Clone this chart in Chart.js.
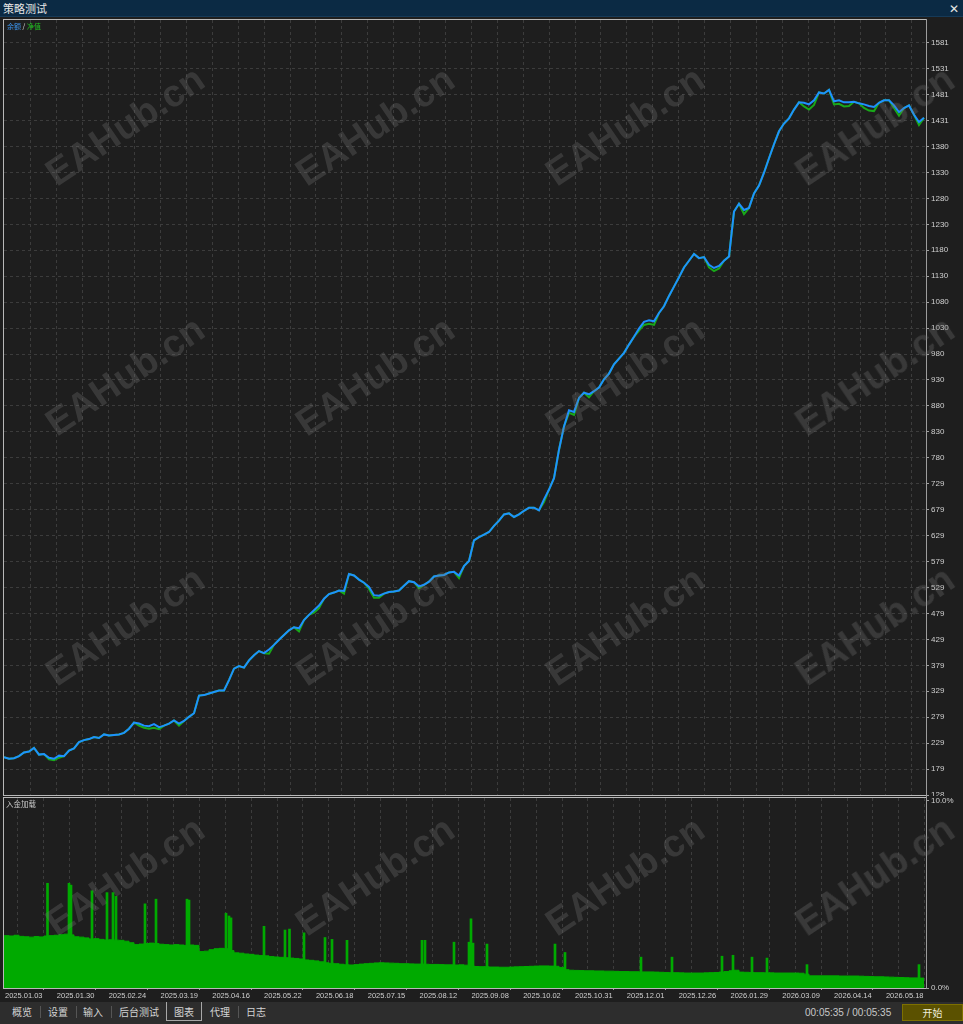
<!DOCTYPE html>
<html lang="zh">
<head>
<meta charset="UTF-8" />
<title>策略测试</title>
<script src="https://cdn.jsdelivr.net/npm/chart.js@4.4.1/dist/chart.umd.min.js"></script>
<style>
  html, body { margin: 0; padding: 0; }
  body {
    width: 963px; height: 1024px; overflow: hidden; position: relative;
    background: #1e1e1e;
    font-family: 'Noto Sans CJK SC', 'Liberation Sans', sans-serif;
  }
  .abs { position: absolute; white-space: nowrap; }
  .titlebar { left: 0; top: 0; width: 963px; height: 16px; background: #0b2a44; border-bottom: 1px solid #163a58; }
  .title { left: 3px; top: 0; font-size: 11px; line-height: 16px; color: #e6e6e6; }
  .close { right: 4px; top: 0; font-size: 12px; line-height: 16px; color: #e6e6e6; }
  .frame { box-sizing: border-box; border-left: 1px solid #b8b8b8; border-top: 1px solid #b8b8b8; border-bottom: 1px solid #b8b8b8; }
  .axisline { left: 926px; top: 19px; width: 1px; height: 970px; background: #9c9c9c; }
  canvas { position: absolute; left: 0; }
  .legend { left: 7px; top: 21px; font-size: 7px; line-height: 10px; }
  .sublabel { left: 6px; top: 798px; font-size: 7.5px; line-height: 11px; color: #c8c8c8; }
  .tabbar { left: 0; top: 1002px; width: 963px; height: 22px; background: #2d2d2d; }
  .tab { top: 1005px; font-size: 10px; line-height: 14px; color: #d4d4d4; }
  .sep { top: 1006px; width: 1px; height: 12px; background: #555; }
  .tabsel { left: 166px; top: 1002px; width: 36px; height: 19px; box-sizing: border-box; border: 1px solid #a8a8a8; border-top: none; }
  .time { left: 805px; top: 1006px; font-family: 'Liberation Sans', sans-serif; font-size: 10px; line-height: 14px; color: #c8c8c8; }
  .btn { left: 902px; top: 1004px; width: 61px; height: 17px; box-sizing: border-box; background: #5b5100; border: 1px solid #7d7000; color: #efeedd; font-size: 10px; line-height: 15px; text-align: center; }
  .wm { font-family: 'Liberation Sans', sans-serif; font-weight: bold; font-size: 38px; color: rgba(120,120,120,0.30); transform: translate(-50%, -50%) rotate(-34deg); pointer-events: none; }
</style>
</head>
<body>
<div class="abs titlebar"></div>
<div class="abs title">策略测试</div>
<div class="abs close">✕</div>

<canvas id="mainChart" width="963" height="777" style="top:19px;"></canvas>
<canvas id="loadChart" width="963" height="205" style="top:797px;"></canvas>

<div class="abs frame" style="left:3px; top:19px; width:923px; height:777px;"></div>
<div class="abs frame" style="left:3px; top:797px; width:923px; height:192px;"></div>
<div class="abs axisline"></div>

<div class="abs legend"><span style="color:#3b93ea">余额</span><span style="color:#e0e0e0"> / </span><span style="color:#22c022">净值</span></div>
<div class="abs sublabel">入金加载</div>

<div class="abs tabbar"></div>
<div class="abs tab" style="left:12px">概览</div>
<div class="abs sep" style="left:40px"></div>
<div class="abs tab" style="left:48px">设置</div>
<div class="abs sep" style="left:76px"></div>
<div class="abs tab" style="left:83px">输入</div>
<div class="abs sep" style="left:111px"></div>
<div class="abs tab" style="left:119px">后台测试</div>
<div class="abs tabsel"></div>
<div class="abs tab" style="left:174px">图表</div>
<div class="abs tab" style="left:210px">代理</div>
<div class="abs sep" style="left:238px"></div>
<div class="abs tab" style="left:246px">日志</div>
<div class="abs time">00:05:35 / 00:05:35</div>
<div class="abs btn">开始</div>

<div id="marks"></div>

<script>
// x-axis date labels (one every second grid line)
const dateLabels = ['2025.01.03', '2025.01.30', '2025.02.24', '2025.03.19', '2025.04.16', '2025.05.22',
  '2025.06.18', '2025.07.15', '2025.08.12', '2025.09.08', '2025.10.02', '2025.10.31',
  '2025.12.01', '2025.12.26', '2026.01.29', '2026.03.09', '2026.04.14', '2026.05.18'];

// right axis labels of the balance panel, bottom to top
const yTickLabels = ['128', '179', '229', '279', '329', '379', '429', '479', '529', '579', '629', '679',
  '729', '780', '830', '880', '930', '980', '1030', '1080', '1130', '1180', '1230', '1280',
  '1330', '1380', '1431', '1481', '1531', '1581'];

const loadTickValues = [0, 10];
const loadTickLabels = ['0.0%', '10.0%'];

// 余额 (balance)
const balance = [
  201, 198, 199, 203, 210, 212, 219, 206, 207, 200,
  198, 204, 203, 214, 218, 230, 234, 236, 240, 238,
  245, 243, 244, 245, 248, 256, 268, 266, 262, 261,
  265, 259, 262, 266, 272, 266, 271, 279, 286, 320,
  321, 324, 327, 330, 330, 350, 372, 377, 374, 388,
  398, 406, 402, 409, 418, 428, 437, 446, 452, 450,
  466, 476, 485, 494, 507, 516, 519, 523, 522, 555,
  552, 544, 538, 530, 514, 513, 517, 520, 521, 523,
  532, 541, 539, 531, 534, 540, 550, 552, 553, 558,
  559, 552, 570, 580, 620, 626, 631, 636, 648, 658,
  670, 672, 665, 670, 677, 683, 683, 678, 699, 718,
  740, 795, 840, 871, 868, 895, 905, 902, 908, 915,
  931, 942, 960, 971, 982, 998, 1013, 1029, 1042, 1045,
  1043, 1059, 1072, 1092, 1110, 1128, 1147, 1160, 1173, 1165,
  1167, 1152, 1146, 1150, 1160, 1168, 1255, 1270, 1258, 1262,
  1290, 1305, 1330, 1358, 1385, 1410, 1425, 1435, 1452, 1466,
  1465, 1462, 1470, 1485, 1483, 1490, 1468, 1470, 1466, 1466,
  1467, 1464, 1462, 1459, 1457, 1465, 1470, 1470, 1460, 1447,
  1455, 1460, 1442, 1428, 1436
];

// 净值 (equity)
const equity = [
  201, 198, 199, 203, 210, 212, 219, 206, 207, 197,
  195, 200, 203, 214, 218, 230, 234, 236, 240, 238,
  245, 243, 244, 245, 248, 256, 268, 262, 258, 256,
  258, 255, 262, 266, 272, 262, 271, 279, 286, 320,
  321, 324, 327, 330, 330, 350, 372, 377, 374, 388,
  398, 406, 402, 401, 418, 428, 437, 446, 452, 444,
  466, 476, 480, 489, 507, 516, 519, 523, 517, 555,
  552, 544, 538, 526, 509, 509, 517, 520, 521, 523,
  532, 541, 539, 527, 534, 540, 550, 552, 553, 558,
  559, 547, 570, 580, 620, 626, 631, 636, 648, 658,
  670, 672, 665, 670, 677, 683, 683, 678, 694, 718,
  740, 795, 840, 866, 862, 895, 905, 896, 908, 915,
  931, 942, 960, 971, 982, 998, 1013, 1025, 1036, 1038,
  1036, 1059, 1072, 1092, 1110, 1128, 1147, 1160, 1173, 1165,
  1167, 1147, 1140, 1145, 1160, 1168, 1255, 1270, 1250, 1262,
  1290, 1305, 1330, 1358, 1385, 1410, 1425, 1435, 1452, 1466,
  1458, 1452, 1461, 1485, 1483, 1490, 1462, 1463, 1458, 1459,
  1467, 1464, 1455, 1450, 1449, 1465, 1470, 1470, 1455, 1440,
  1455, 1460, 1442, 1422, 1436
];

// 入金加载 base level, %
const loadBase = [
  2.80, 2.78, 2.82, 2.76, 2.74, 2.72, 2.75, 2.73, 2.78, 2.80,
  2.82, 2.85, 2.88, 2.84, 2.74, 2.72, 2.68, 2.62, 2.64, 2.60,
  2.57, 2.58, 2.56, 2.55, 2.50, 2.42, 2.32, 2.35, 2.38, 2.40,
  2.38, 2.34, 2.32, 2.30, 2.32, 2.30, 2.28, 2.30, 2.28, 1.95,
  1.97, 2.05, 2.10, 2.12, 2.10, 2.00, 1.88, 1.86, 1.82, 1.80,
  1.76, 1.74, 1.72, 1.68, 1.66, 1.64, 1.62, 1.60, 1.58, 1.55,
  1.50, 1.48, 1.45, 1.40, 1.35, 1.32, 1.30, 1.27, 1.24, 1.23,
  1.25, 1.28, 1.30, 1.32, 1.34, 1.35, 1.34, 1.33, 1.32, 1.30,
  1.30, 1.29, 1.28, 1.28, 1.27, 1.26, 1.26, 1.25, 1.24, 1.24,
  1.23, 1.24, 1.22, 1.20, 1.15, 1.14, 1.14, 1.12, 1.12, 1.11,
  1.11, 1.12, 1.13, 1.14, 1.15, 1.16, 1.17, 1.18, 1.18, 1.17,
  1.16, 1.10, 0.98, 0.95, 0.94, 0.93, 0.92, 0.92, 0.91, 0.91,
  0.90, 0.90, 0.89, 0.88, 0.88, 0.87, 0.87, 0.86, 0.86, 0.86,
  0.85, 0.84, 0.83, 0.82, 0.82, 0.81, 0.80, 0.80, 0.80, 0.80,
  0.81, 0.82, 0.83, 0.85, 0.88, 0.92, 0.95, 0.85, 0.84, 0.83,
  0.82, 0.82, 0.81, 0.81, 0.80, 0.80, 0.80, 0.80, 0.80, 0.79,
  0.74, 0.65, 0.65, 0.65, 0.65, 0.65, 0.65, 0.64, 0.64, 0.64,
  0.64, 0.63, 0.62, 0.61, 0.60, 0.60, 0.59, 0.58, 0.57, 0.56,
  0.55, 0.54, 0.54, 0.53, 0.53
];

// short load spikes: position (same index units as above) and height in %
const spikeIdx = [8.7, 13.0, 13.4, 17.6, 20.6, 21.8, 22.4, 28.2, 30.4, 36.6, 37.0, 44.4, 45.0, 45.4,
  52.0, 56.2, 57.1, 60.0, 64.2, 65.6, 68.6, 83.6, 84.2, 90.0, 93.0, 93.4, 93.8, 96.6,
  110.2, 112.2, 127.4, 133.6, 143.6, 145.8, 149.6, 152.6, 160.6, 183.0];
const spikeLoad = [5.6, 5.6, 5.5, 5.2, 5.1, 5.1, 4.9, 4.5, 4.75, 4.75, 4.7, 4.0, 3.85, 3.75,
  3.3, 3.1, 3.15, 2.95, 2.7, 2.6, 2.55, 2.55, 2.55, 2.45, 2.45, 3.7, 2.4, 2.35,
  2.35, 1.9, 1.65, 1.65, 1.7, 1.75, 1.65, 1.6, 1.25, 1.25];

const GRID_STEP = 5.182;
const X_MAX = 184.4;
const GRID = '#3c3c3c';
const TICK = '#a0a0a0';
const LABEL = '#cfcfcf';
const CLEAR = 'rgba(0,0,0,0)';

function gridTicks(scale) {
  const t = [];
  for (let k = 0; 0.2 + k * GRID_STEP < X_MAX; k++) t.push({ value: 0.2 + k * GRID_STEP });
  scale.ticks = t;
}
function noPad(scale) {
  scale.paddingTop = 0; scale.paddingBottom = 0;
  scale.paddingLeft = 0; scale.paddingRight = 0;
}
const xy = arr => arr.map((v, i) => ({ x: i, y: v }));

new Chart(document.getElementById('mainChart'), {
  type: 'line',
  data: {
    datasets: [
      { label: '余额', data: xy(balance), borderColor: '#1e90ff', borderWidth: 2, pointRadius: 0, tension: 0 },
      { label: '净值', data: xy(equity), borderColor: '#19a819', borderWidth: 2, pointRadius: 0, tension: 0 }
    ]
  },
  options: {
    responsive: false, animation: false, devicePixelRatio: 1,
    layout: { padding: { left: 4, top: 1, bottom: 1, right: 0 } },
    plugins: { legend: { display: false }, tooltip: { enabled: false } },
    scales: {
      x: {
        type: 'linear', min: 0, max: X_MAX, offset: false,
        afterBuildTicks: gridTicks,
        afterFit: s => { s.height = 0; noPad(s); },
        ticks: { display: false },
        grid: { color: c => c.index === 0 ? CLEAR : GRID, drawTicks: false },
        border: { display: false, dash: [3, 3] }
      },
      y: {
        position: 'right', min: 128, max: 1625,
        afterBuildTicks: s => { s.ticks = yTickLabels.map((l, k) => ({ value: 128 + k * 1453 / 29 })); },
        afterFit: s => { s.width = 37; noPad(s); },
        ticks: {
          color: LABEL, padding: 2, autoSkip: false,
          font: { family: 'Liberation Sans', size: 8 },
          callback: (v, i) => yTickLabels[i]
        },
        grid: { color: c => c.index === 0 ? CLEAR : GRID, tickColor: TICK, tickLength: 3 },
        border: { display: false, dash: [3, 3] }
      }
    }
  }
});

new Chart(document.getElementById('loadChart'), {
  type: 'line',
  data: {
    datasets: [
      {
        label: '入金加载', data: xy(loadBase), stepped: true, fill: 'origin',
        backgroundColor: '#00aa00', borderColor: '#00aa00', borderWidth: 1, pointRadius: 0
      },
      {
        type: 'bar', label: 'spikes',
        data: spikeIdx.map((x, i) => ({ x: x, y: spikeLoad[i] })),
        backgroundColor: '#00aa00', borderWidth: 0, barThickness: 2
      }
    ]
  },
  options: {
    responsive: false, animation: false, devicePixelRatio: 1,
    layout: { padding: { left: 4, top: 1, bottom: 0, right: 0 } },
    plugins: { legend: { display: false }, tooltip: { enabled: false } },
    scales: {
      x: {
        type: 'linear', min: 0, max: X_MAX, offset: false,
        afterBuildTicks: gridTicks,
        afterFit: s => { s.height = 14; noPad(s); },
        ticks: {
          color: LABEL, padding: 1, align: 'start', maxRotation: 0, autoSkip: false,
          font: { family: 'Liberation Sans', size: 7.5 },
          callback: (v, i) => (i % 2 === 0 ? (dateLabels[i / 2] || '') : '')
        },
        grid: {
          color: c => c.index === 0 ? CLEAR : GRID,
          tickColor: c => (c.index % 2 === 0 ? TICK : CLEAR), tickLength: 2
        },
        border: { display: false, dash: [3, 3] }
      },
      y: {
        position: 'right', min: 0, max: 10.16,
        afterBuildTicks: s => { s.ticks = loadTickValues.map(v => ({ value: v })); },
        afterFit: s => { s.width = 37; noPad(s); },
        ticks: {
          color: LABEL, padding: 2, autoSkip: false,
          font: { family: 'Liberation Sans', size: 8 },
          callback: (v, i) => loadTickLabels[i]
        },
        grid: { color: CLEAR, tickColor: TICK, tickLength: 3 },
        border: { display: false }
      }
    }
  }
});

// EAHub.cn watermark grid
const marks = document.getElementById('marks');
for (let r = 0; r < 4; r++) {
  for (let c = 0; c < 4; c++) {
    const d = document.createElement('div');
    d.className = 'abs wm';
    d.style.left = (125 + c * 250) + 'px';
    d.style.top = (126 + r * 250) + 'px';
    d.textContent = 'EAHub.cn';
    marks.appendChild(d);
  }
}
</script>
</body>
</html>
